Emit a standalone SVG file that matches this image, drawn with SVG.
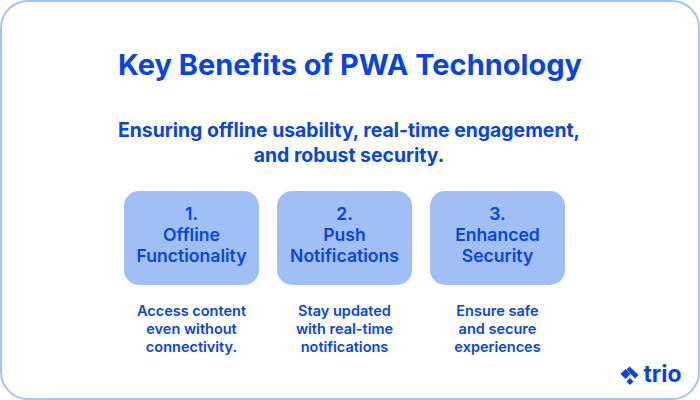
<svg xmlns="http://www.w3.org/2000/svg" width="700" height="400" viewBox="0 0 700 400">
<style>
text{font-family:"Inter","Lato","Liberation Sans",sans-serif;fill:#0a45db;text-anchor:middle;font-weight:600;font-variant-ligatures:none}
.t{font-size:29px;font-weight:700}
.s{font-size:19.400px;font-weight:700}
.h{font-size:17.600px}
.d{font-size:14.500px}
.box{fill:#a0c0f5}
</style>
<rect width="700" height="400" fill="#ffffff"/>
<rect x="1" y="1" width="698" height="398" rx="27" fill="#ffffff" stroke="#a6c3f5" stroke-width="2"/>
<text class="t" x="350" y="75">Key Benefits of PWA Technology</text>
<text class="s" x="349" y="137">Ensuring offline usability, real-time engagement,</text>
<text class="s" x="349" y="162">and robust security.</text>
<g id="node1">
<rect class="box" x="124" y="191" width="135" height="94" rx="15"/>
<text class="h" x="191.500" y="220">1.</text>
<text class="h" x="191.500" y="241">Offline</text>
<text class="h" x="191.500" y="262">Functionality</text>
</g>
<g id="node2">
<rect class="box" x="277" y="191" width="135" height="94" rx="15"/>
<text class="h" x="344.500" y="220">2.</text>
<text class="h" x="344.500" y="241">Push</text>
<text class="h" x="344.500" y="262">Notifications</text>
</g>
<g id="node3">
<rect class="box" x="430" y="191" width="135" height="94" rx="15"/>
<text class="h" x="497.500" y="220">3.</text>
<text class="h" x="497.500" y="241">Enhanced</text>
<text class="h" x="497.500" y="262">Security</text>
</g>
<g id="desc1">
<text class="d" x="191.500" y="316">Access content</text>
<text class="d" x="191.500" y="334">even without</text>
<text class="d" x="191.500" y="352">connectivity.</text>
</g>
<g id="desc2">
<text class="d" x="344.500" y="316">Stay updated</text>
<text class="d" x="344.500" y="334">with real-time</text>
<text class="d" x="344.500" y="352">notifications</text>
</g>
<g id="desc3">
<text class="d" x="497.500" y="316">Ensure safe</text>
<text class="d" x="497.500" y="334">and secure</text>
<text class="d" x="497.500" y="352">experiences</text>
</g>
<g id="logo" fill="#0a45db">
<path d="M620.500 374L625.500 369L630.500 374L625.500 379Z"/>
<path d="M629.500 366.500L638.500 375L635 378.500L626.500 369.500Z"/>
<path d="M626.500 381.500L630 378L633.500 381.500L630 385Z"/>
<text x="662.500" y="382" style="font-size:22.800px;font-weight:700">trio</text>
</g>
</svg>
